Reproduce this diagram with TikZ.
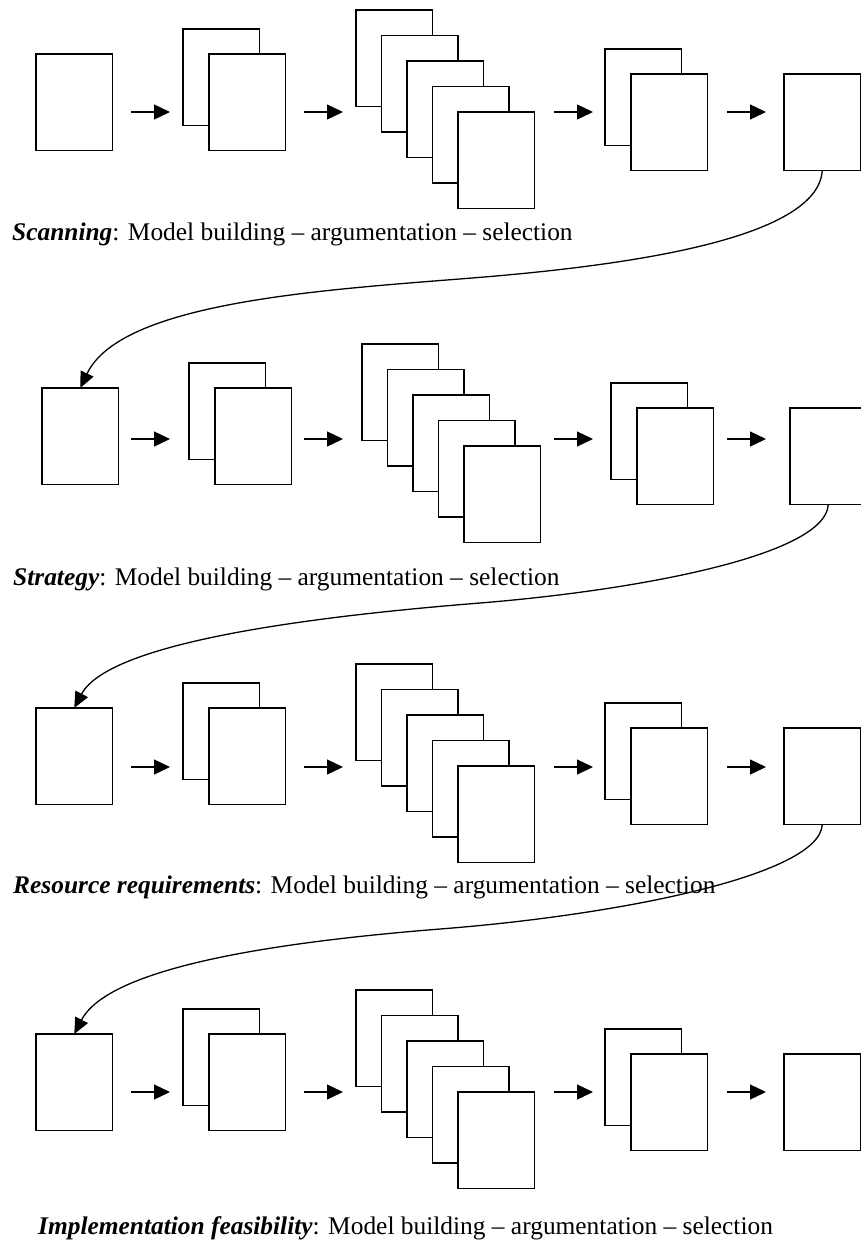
\documentclass[tikz,border=0pt]{standalone}
\usepackage{fontspec}
\setmainfont{Liberation Serif}
\usetikzlibrary{arrows.meta}
% #1 prefix, #2 dx of boxes, #3 dy of boxes, #4 y of arrows
\newcommand{\drawstage}[4]{%
  \begin{scope}[shift={(#2,#3)}]
    \node[page] (#1A) at (36,54) {};
    \node[page] (#1B1) at (183,29) {};
    \node[page] (#1B2) at (209,54) {};
    \foreach \i in {1,...,5}
      \node[page] (#1C\i) at ({356+25.5*(\i-1)},{10+25.5*(\i-1)}) {};
    \node[page] (#1D1) at (605,49) {};
    \node[page] (#1D2) at (631,74) {};
    \node[page] (#1E) at (784,74) {};
  \end{scope}
  \coordinate (#1p1) at (131,#4);
  \coordinate (#1q1) at (170,#4);
  \coordinate (#1p2) at (304,#4);
  \coordinate (#1q2) at (343,#4);
  \coordinate (#1p3) at (554,#4);
  \coordinate (#1q3) at (593,#4);
  \coordinate (#1p4) at (727,#4);
  \coordinate (#1q4) at (766,#4);
  \draw[flow] (#1p1) -- (#1q1);
  \draw[flow] (#1p2) -- (#1q2);
  \draw[flow] (#1p3) -- (#1q3);
  \draw[flow] (#1p4) -- (#1q4);
}
\begin{document}
\begin{tikzpicture}[x=1pt,y=-1pt,
  page/.style={draw, fill=white, line width=1.3pt, minimum width=76.5pt,
    minimum height=96.5pt, inner sep=0pt, outer sep=0pt, anchor=north west},
  flow/.style={line width=1.3pt, -{Triangle[length=16pt,width=15pt]}},
  loopback/.style={line width=1.3pt, -{Triangle[length=16pt,width=14pt]}},
  caption/.style={anchor=base west, inner sep=0pt,
    font=\fontsize{25.4}{30}\selectfont}]
\fill[white] (0,0) rectangle (861,1245);
\clip (0,0) rectangle (861,1245);

\drawstage{ra}{0}{0}{112}
\drawstage{rb}{6}{334}{439}
\drawstage{rc}{0}{654}{767}
\drawstage{rd}{0}{980}{1092}

\node[caption] (t1) at (12,240) {\textbf{\textit{Scanning}}: Model building -- argumentation -- selection};
\node[caption] (t2) at (13,585) {\textbf{\textit{Strategy}}: Model building -- argumentation -- selection};
\node[caption] (t3) at (13,893) {\textbf{\textit{Resource requirements}}: Model building -- argumentation -- selection};
\node[caption] (t4) at (38,1234) {\textbf{\textit{Implementation feasibility}}: Model building -- argumentation -- selection};

\draw[loopback] (raE.south) .. controls (818,240) and (622,266) .. (472,278)
  .. controls (322,290) and (121,302) .. (rbA.north);
\draw[loopback] (rbE.south) .. controls (826,555) and (640,590) .. (480,603)
  .. controls (330,615) and (110,640) .. (rcA.north);
\draw[loopback] (rcE.south) .. controls (820,875) and (620,915) .. (440,929)
  .. controls (290,941) and (110,965) .. (rdA.north);
\end{tikzpicture}
\end{document}
